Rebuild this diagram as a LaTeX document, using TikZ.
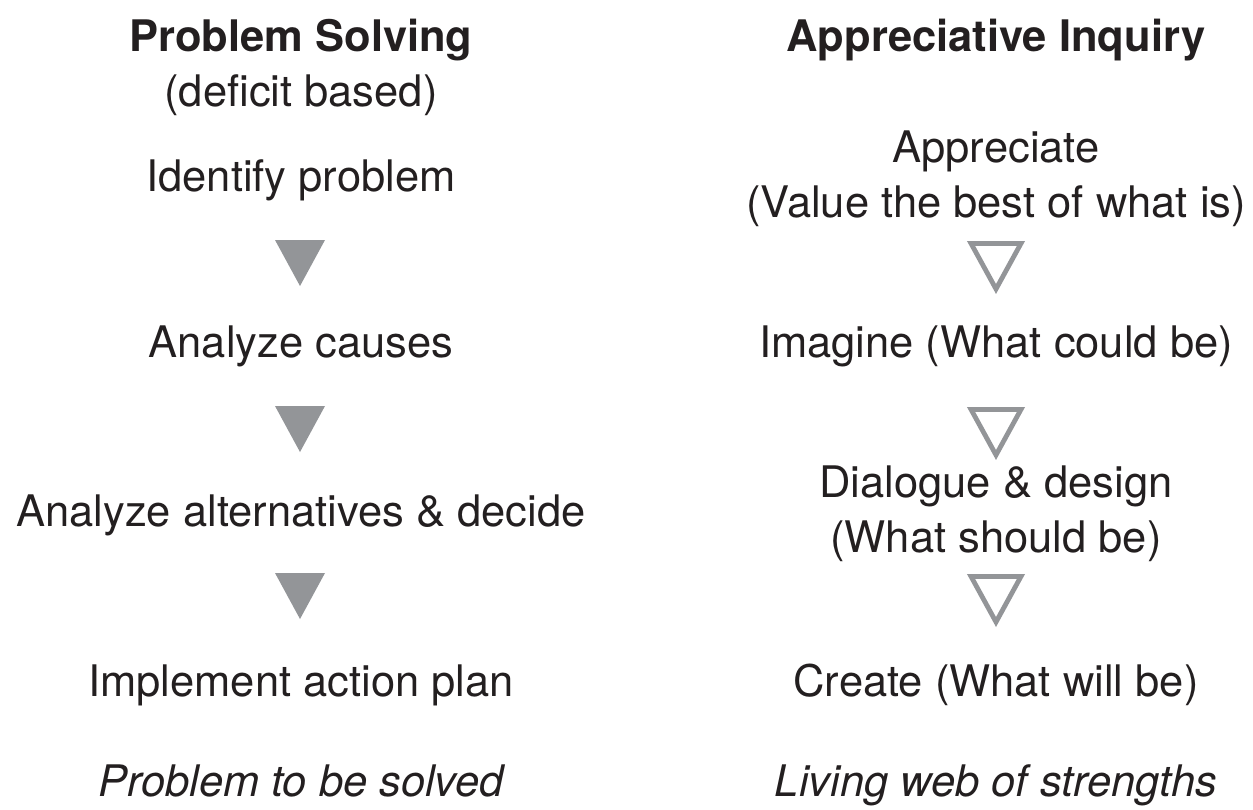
\documentclass[tikz,border=0pt]{standalone}
\usepackage{fontspec}
\setmainfont{TeX Gyre Heros}
\usetikzlibrary{calc}
\definecolor{ink}{HTML}{231F20}
\definecolor{arrowgray}{HTML}{939598}

\begin{document}
\begin{tikzpicture}[x=0.5pt, y=-0.5pt,
    stage/.style = {anchor=base, inner sep=0pt, align=center, text=ink,
                    font=\fontsize{21.75}{27.5}\selectfont},
    head/.style = {stage, font=\fontsize{21.75}{27.5}\selectfont\bfseries},
    outcome/.style = {stage, font=\fontsize{21.75}{27.5}\selectfont\itshape}]
      \useasboundingbox (0,0) rectangle (1253,809);

      \node [head] (ps) at (301, 51) {Problem Solving};
      \node [stage] (deficit) at (301, 106) {(deficit based)};
      \node [stage] (identify) at (301, 191) {Identify problem};
      \node [stage] (causes) at (301, 357) {Analyze causes};
      \node [stage] (alternatives) at (301, 526) {Analyze alternatives \& decide};
      \node [stage] (implement) at (301, 696) {Implement action plan};
      \node [outcome] (solved) at (301, 796) {Problem to be solved};

      \node [head] (ai) at (996, 51) {Appreciative Inquiry};
      \node [stage] (appreciate) at (996, 217) {Appreciate\\(Value the best of what is)};
      \node [stage] (imagine) at (996, 357) {Imagine (What could be)};
      \node [stage] (dialogue) at (996, 552) {Dialogue \& design\\(What should be)};
      \node [stage] (create) at (996, 696) {Create (What will be)};
      \node [outcome] (strengths) at (996, 796) {Living web of strengths};

      \foreach \t in {240, 406, 573}
               {
                 \fill [arrowgray] (275, \t) -- (325, \t) -- (300, \t + 46) -- cycle;
               }
      \foreach \t in {243.4, 409.4, 576.4}
               {
                 \draw [arrowgray, line width=2.4pt] (971, \t) -- (1021, \t) -- (996, \t + 45.6) -- cycle;
               }
    \end{tikzpicture}
\end{document}
